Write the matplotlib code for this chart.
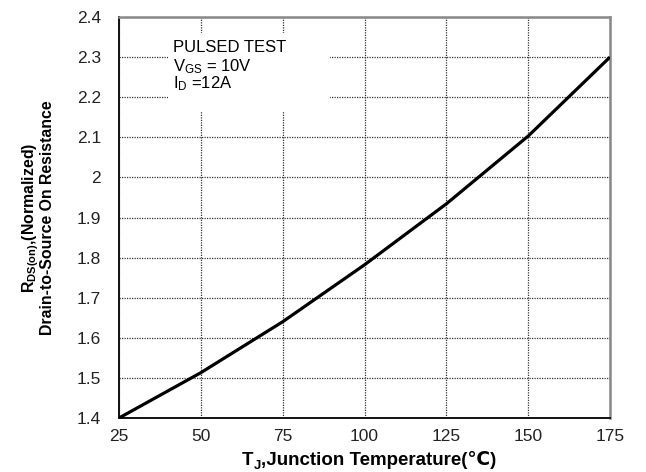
import matplotlib
matplotlib.use("Agg")
import matplotlib.pyplot as plt
from matplotlib.patches import Rectangle

temps = [25, 50, 75, 100, 125, 150, 175]
rds_norm = [1.40, 1.513, 1.640, 1.782, 1.934, 2.103, 2.300]
xticks = [25, 50, 75, 100, 125, 150, 175]
yticks = [1.4, 1.5, 1.6, 1.7, 1.8, 1.9, 2.0, 2.1, 2.2, 2.3, 2.4]
ytick_labels = ["1.4", "1.5", "1.6", "1.7", "1.8", "1.9", "2", "2.1", "2.2", "2.3", "2.4"]

plt.rcParams['font.family'] = ['Liberation Sans', 'DejaVu Sans']
plt.rcParams['mathtext.fontset'] = 'custom'
plt.rcParams['mathtext.rm'] = 'Liberation Sans'
plt.rcParams['mathtext.bf'] = 'Liberation Sans:bold'
plt.rcParams['mathtext.it'] = 'Liberation Sans'

fig = plt.figure(figsize=(6.46, 4.72), dpi=100)
ax = fig.add_axes([119/646, 1-418/472, (610-119)/646, (418-17)/472])

ax.plot(temps, rds_norm, color='black', lw=2.3, zorder=3,
        solid_capstyle='butt', solid_joinstyle='round')
ax.set_xlim(25, 175)
ax.set_ylim(1.4, 2.4)
ax.set_xticks(xticks)
ax.set_yticks(yticks)
ax.set_yticklabels(ytick_labels)
ax.tick_params(length=0, labelsize=12.5, colors='#222222')
ax.tick_params(axis='y', pad=13)
ax.tick_params(axis='x', pad=8)
ax.grid(True, color='#333333', ls=(0, (1, 1)), lw=0.9)

# white label box covering grid
box = Rectangle((40, 2.163), 49.5, 0.197, transform=ax.transData, facecolor='white',
                edgecolor='none', zorder=2)
ax.add_patch(box)
ax.text(41.5, 2.313, "PULSED TEST", fontsize=12, va='baseline', ha='left', zorder=4)
ax.text(41.5, 2.264, r"V$_{\mathrm{GS}}$ = 10V", fontsize=12, va='baseline', ha='left', zorder=4)
ax.text(41.5, 2.222, r"I$_{\mathrm{D}}$ =12A", fontsize=12, va='baseline', ha='left', zorder=4)

for s in ['left', 'bottom']:
    ax.spines[s].set_color('#111111')
    ax.spines[s].set_linewidth(1.4)
for s in ['top', 'right']:
    ax.spines[s].set_color('#888888')
    ax.spines[s].set_linewidth(1.8)

# x label built from pieces (subscript J, and ℃ from DejaVu fallback)
yb = -0.117
t1 = ax.text(0.25, yb, "T", transform=ax.transAxes, fontsize=13.5,
             fontweight='bold', va='baseline', ha='left')
t2 = ax.annotate("J", xy=(1, yb), xycoords=(t1, 'axes fraction'),
                 xytext=(0.3, -3), textcoords='offset points', fontsize=9.5,
                 fontweight='bold', va='baseline', ha='left')
t3 = ax.annotate(",Junction Temperature(℃)", xy=(1, yb), xycoords=(t2, 'axes fraction'),
                 fontsize=13.5, fontweight='bold', va='baseline', ha='left')

ax.set_ylabel("R$_{\\mathbf{DS(on)}}$,(Normalized)\nDrain-to-Source On Resistance",
              fontsize=11.4, fontweight='bold', linespacing=0.95)
ax.yaxis.set_label_coords(-0.13, 0.5)

fig.savefig("out.png", dpi=100)
